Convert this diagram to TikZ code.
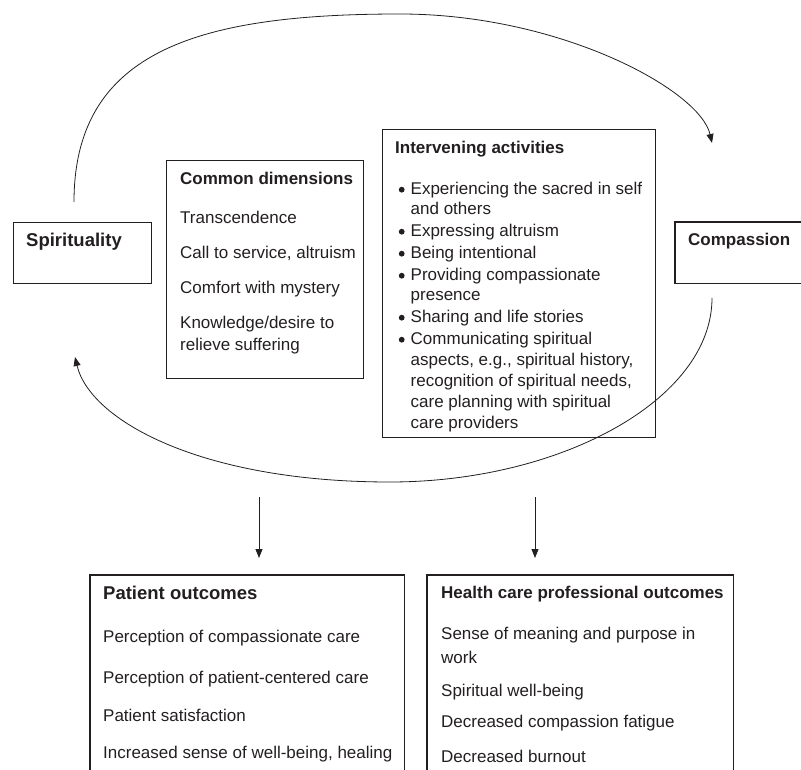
\documentclass[tikz,border=0pt]{standalone}
\usepackage{fontspec}
\setmainfont{Liberation Sans}
\usetikzlibrary{arrows.meta}
\definecolor{ink}{HTML}{231F20}
\begin{document}
\begin{tikzpicture}[x=1pt,y=-1pt,
  box/.style={draw=ink, line width=1.1pt, rectangle, inner sep=0pt, anchor=north west},
  openbox/.style={rectangle, inner sep=0pt, anchor=north west},
  boxline/.style={draw=ink, line width=1.1pt},
  txt/.style={anchor=base west, inner sep=0pt, text=ink, font=\fontsize{17}{20}\selectfont},
  ttl/.style={anchor=base west, inner sep=0pt, text=ink, font=\fontsize{17}{20}\selectfont\bfseries},
  bigttl/.style={anchor=base west, inner sep=0pt, text=ink, font=\fontsize{18.5}{22}\selectfont\bfseries},
  conn/.style={draw=ink, line width=0.8pt},
  tipped/.style={-{Triangle[length=9pt,width=7pt]}},
  bulletdot/.style={fill=ink}]
\useasboundingbox (0,0) rectangle (801,770);

% boxes
\node[box, minimum width=138pt, minimum height=61pt] (spir) at (13,222) {};
\node[box, minimum width=197pt, minimum height=218pt] (cd) at (166,160) {};
\node[box, minimum width=273pt, minimum height=308pt] (ia) at (382,129) {};
\node[openbox, minimum width=126pt, minimum height=61pt] (comp) at (675,222) {};
\draw[boxline] (comp.north east) -- (comp.north west) -- (comp.south west) -- (comp.south east);
\node[openbox, minimum width=314pt, minimum height=195pt] (po) at (90,575) {};
\draw[boxline] (po.south west) -- (po.north west) -- (po.north east) -- (po.south east);
\node[openbox, minimum width=306pt, minimum height=195pt] (hp) at (427,575) {};
\draw[boxline] (hp.south west) -- (hp.north west) -- (hp.north east) -- (hp.south east);

% texts
\node[bigttl] (tspir) at (26,246.5) {Spirituality};
\node[ttl] (tcomp) at (688,245.5) {Compassion};

\node[ttl] (tcd) at (180,184.5) {Common dimensions};
\node[txt] (cd1) at (180,223.5) {Transcendence};
\node[txt] (cd2) at (180,258.5) {Call to service, altruism};
\node[txt] (cd3) at (180,293.5) {Comfort with mystery};
\node[txt] (cd4) at (180,328.5) {Knowledge/desire to};
\node[txt] (cd5) at (180,350.5) {relieve suffering};

\node[ttl] (tia) at (395,153.5) {Intervening activities};
\node[txt] (ia1) at (410.5,194.5) {Experiencing the sacred in self};
\node[txt] (ia2) at (410.5,214.5) {and others};
\node[txt] (ia3) at (410.5,236.5) {Expressing altruism};
\node[txt] (ia4) at (410.5,258.5) {Being intentional};
\node[txt] (ia5) at (410.5,280.5) {Providing compassionate};
\node[txt] (ia6) at (410.5,300.5) {presence};
\node[txt] (ia7) at (410.5,322.5) {Sharing and life stories};
\node[txt] (ia8) at (410.5,344.5) {Communicating spiritual};
\node[txt] (ia9) at (410.5,365.5) {aspects, e.g., spiritual history,};
\node[txt] (ia10) at (410.5,386.5) {recognition of spiritual needs,};
\node[txt] (ia11) at (410.5,407.5) {care planning with spiritual};
\node[txt] (ia12) at (410.5,428.5) {care providers};
\foreach \n in {ia1,ia3,ia4,ia5,ia7,ia8}
  \fill[bulletdot] ([xshift=-8.8pt,yshift=4.8pt]\n.base west) circle (2.9pt);

\node[bigttl] (tpo) at (103,599.5) {Patient outcomes};
\node[txt] (po1) at (103,642.5) {Perception of compassionate care};
\node[txt] (po2) at (103,683.5) {Perception of patient-centered care};
\node[txt] (po3) at (103,721.5) {Patient satisfaction};
\node[txt] (po4) at (103,758.5) {Increased sense of well-being, healing};

\node[ttl] (thp) at (441,598.5) {Health care professional outcomes};
\node[txt] (hp1) at (441,639.5) {Sense of meaning and purpose in};
\node[txt] (hp2) at (441,663.5) {work};
\node[txt] (hp3) at (441,696.5) {Spiritual well-being};
\node[txt] (hp4) at (441,727.5) {Decreased compassion fatigue};
\node[txt] (hp5) at (441,762.5) {Decreased burnout};

% connector end points
\coordinate (ts) at (74,202);
\coordinate (te) at (712,143);
\coordinate (bs) at (712,298);
\coordinate (be) at (75,357);
\coordinate (d1s) at (259,497);
\coordinate (d1e) at (259,558);
\coordinate (d2s) at (535,497);
\coordinate (d2e) at (535,558);

% connectors
\draw[conn, tipped] (ts) .. controls (74,50) and (200,14) .. (400,14)
  .. controls (560,14) and (700,90) .. (te);
\draw[conn, tipped] (bs) .. controls (712,400) and (560,482) .. (390,482)
  .. controls (200,482) and (90,420) .. (be);
\draw[conn, tipped] (d1s) -- (d1e);
\draw[conn, tipped] (d2s) -- (d2e);
\end{tikzpicture}
\end{document}
